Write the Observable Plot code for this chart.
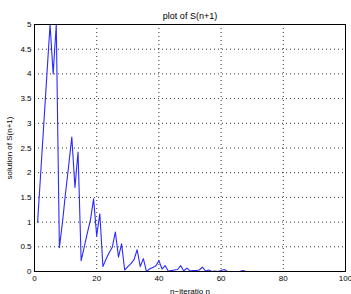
<!DOCTYPE html>
<html><head><meta charset="utf-8">
<script src="https://cdn.jsdelivr.net/npm/d3@7"></script>
<script src="https://cdn.jsdelivr.net/npm/@observablehq/plot@0.6"></script>
<style>
html,body{margin:0;padding:0;background:#fff;}
</style>
</head><body>
<div id="chart"></div>
<script>
const title = "plot of S(n+1)";
const xLabel = "n\u2212iteratio n";
const yLabel = "solution of S(n+1)";
const xTicks = [0, 20, 40, 60, 80, 100];
const yTicks = [0, 0.5, 1, 1.5, 2, 2.5, 3, 3.5, 4, 4.5, 5];
const iterations = d3.range(1, 101);
const solution = [
  1.0, 2.0, 3.0, 4.0, 5.0, 4.0, 5.0, 0.48, 1.0, 1.6,
  2.15, 2.72, 1.7, 2.42, 0.22, 0.5, 0.78, 1.05, 1.47, 0.72,
  1.17, 0.1, 0.25, 0.38, 0.49, 0.8, 0.29, 0.56, 0.03, 0.1,
  0.16, 0.24, 0.44, 0.1, 0.26, 0.0, 0.05, 0.08, 0.11, 0.22,
  0.05, 0.12, 0.01, 0.02, 0.03, 0.04, 0.12, 0.01, 0.07, 0.01,
  0.02, 0.02, 0.03, 0.09, 0.01, 0.03, 0.0, 0.01, 0.0, 0.02,
  0.04, 0.0, 0.0, 0.0, 0.0, 0.0, 0.02, 0.0, 0.0, 0.0,
  0.0, 0.0, 0.0, 0.0, 0.0, 0.0, 0.0, 0.0, 0.0, 0.0,
  0.0, 0.0, 0.0, 0.0, 0.0, 0.0, 0.0, 0.0, 0.0, 0.0,
  0.0, 0.0, 0.0, 0.0, 0.0, 0.0, 0.0, 0.0, 0.0, 0.0
];
const data = iterations.map((n, i) => ({n, s: solution[i]}));

const chart = Plot.plot({
  width: 351,
  height: 294,
  marginLeft: 34,
  marginRight: 6,
  marginTop: 24,
  marginBottom: 23,
  style: {fontFamily: "Liberation Sans, Arial, sans-serif", fontSize: "8px", color: "#000", background: "#fff"},
  x: {domain: [0, 100], ticks: xTicks, tickSize: 0, tickPadding: 4, label: xLabel, labelAnchor: "center", labelOffset: 22, labelArrow: "none"},
  y: {domain: [0, 5], ticks: yTicks, tickSize: 0, tickPadding: 3, tickFormat: d3.format("~g"), label: yLabel, labelAnchor: "center", labelOffset: 28, labelArrow: "none"},
  marks: [
    Plot.gridX(xTicks, {stroke: "#000", strokeOpacity: 0.8, strokeDasharray: "1,3"}),
    Plot.gridY(yTicks, {stroke: "#000", strokeOpacity: 0.8, strokeDasharray: "1,3"}),
    Plot.line(data, {x: "n", y: "s", stroke: "#2a2aff", strokeWidth: 1.1, clip: true}),
    Plot.frame({stroke: "#000", strokeWidth: 1}),
    Plot.text([title], {frameAnchor: "top", dy: -12, fontSize: 9})
  ]
});
document.getElementById("chart").appendChild(chart);
</script>
</body></html>
